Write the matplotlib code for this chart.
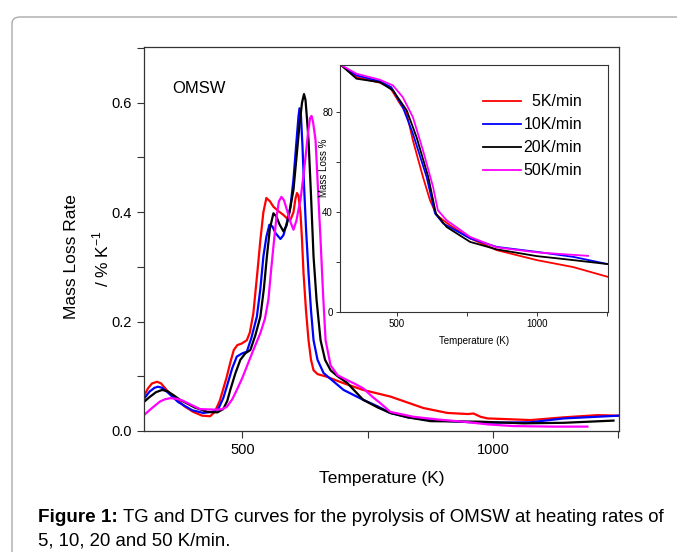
import matplotlib
matplotlib.use('Agg')
import matplotlib.pyplot as plt
from matplotlib.patches import FancyBboxPatch
from matplotlib.ticker import MultipleLocator

plt.rcParams['font.family'] = ['Liberation Sans', 'DejaVu Sans']
plt.rcParams['mathtext.fontset'] = 'custom'
plt.rcParams['mathtext.rm'] = 'Liberation Sans'

# DTG curves (main panel): temperature (K), mass loss rate (% / K)
t_red = [305, 312, 320, 330, 338, 350, 370, 385, 402, 420, 436, 445, 455, 469, 476, 483, 490,
         499, 509, 515, 522, 530, 536, 542, 548, 555, 562, 572, 582, 590, 596, 602, 606, 609,
         612, 616, 619, 622, 627, 632, 637, 642, 650, 669, 700, 741, 795, 861, 909, 950, 961,
         975, 989, 1075, 1141, 1208, 1250]
dtg_red = [0.066, 0.078, 0.087, 0.090, 0.087, 0.074, 0.057, 0.045, 0.035, 0.028, 0.027, 0.035,
           0.055, 0.099, 0.125, 0.148, 0.157, 0.160, 0.166, 0.180, 0.215, 0.290, 0.349, 0.400,
           0.426, 0.420, 0.410, 0.402, 0.395, 0.388, 0.386, 0.400, 0.425, 0.435, 0.430, 0.398,
           0.350, 0.289, 0.220, 0.166, 0.130, 0.111, 0.104, 0.099, 0.088, 0.075, 0.063, 0.042,
           0.033, 0.031, 0.032, 0.026, 0.023, 0.020, 0.025, 0.029, 0.028]

t_blue = [305, 315, 325, 332, 340, 352, 372, 400, 422, 440, 452, 462, 469, 480, 489, 500, 509,
          518, 529, 536, 542, 548, 554, 560, 566, 576, 582, 590, 596, 602, 608, 612, 614, 617,
          620, 623, 627, 632, 637, 642, 650, 662, 680, 702, 741, 770, 795, 830, 875, 975, 1075,
          1141, 1250]
dtg_blue = [0.060, 0.072, 0.079, 0.081, 0.079, 0.070, 0.053, 0.038, 0.033, 0.035, 0.040, 0.060,
            0.081, 0.115, 0.136, 0.142, 0.145, 0.170, 0.209, 0.260, 0.319, 0.355, 0.377, 0.374,
            0.362, 0.351, 0.358, 0.385, 0.410, 0.460, 0.530, 0.575, 0.590, 0.575, 0.520, 0.450,
            0.370, 0.289, 0.220, 0.166, 0.130, 0.106, 0.092, 0.075, 0.057, 0.045, 0.033, 0.025,
            0.020, 0.015, 0.016, 0.023, 0.028]

t_black = [305, 315, 328, 340, 350, 362, 376, 405, 430, 450, 462, 470, 476, 486, 496, 506, 516,
           526, 536, 543, 549, 555, 562, 568, 574, 582, 588, 594, 602, 608, 614, 619, 623, 626,
           629, 632, 637, 642, 648, 656, 665, 676, 690, 709, 741, 770, 795, 830, 875, 975, 1060,
           1141, 1240]
dtg_black = [0.054, 0.062, 0.071, 0.075, 0.073, 0.066, 0.057, 0.043, 0.035, 0.034, 0.040, 0.055,
             0.075, 0.105, 0.130, 0.142, 0.148, 0.175, 0.209, 0.260, 0.319, 0.370, 0.398, 0.392,
             0.378, 0.365, 0.375, 0.400, 0.441, 0.500, 0.560, 0.600, 0.616, 0.605, 0.570, 0.532,
             0.430, 0.319, 0.240, 0.166, 0.130, 0.111, 0.100, 0.088, 0.057, 0.043, 0.033, 0.025,
             0.018, 0.017, 0.014, 0.015, 0.019]

t_mag = [305, 320, 336, 346, 356, 368, 380, 400, 416, 449, 460, 469, 480, 489, 500, 509, 522,
         536, 545, 552, 557, 562, 568, 573, 578, 583, 589, 596, 602, 608, 612, 616, 621, 626,
         631, 635, 638, 641, 646, 651, 656, 661, 666, 676, 690, 709, 725, 741, 760, 775, 795,
         841, 890, 941, 990, 1041, 1120, 1188]
dtg_mag = [0.030, 0.042, 0.054, 0.058, 0.060, 0.059, 0.056, 0.047, 0.040, 0.039, 0.040, 0.044,
           0.058, 0.075, 0.097, 0.118, 0.148, 0.179, 0.205, 0.240, 0.290, 0.337, 0.390, 0.420,
           0.428, 0.422, 0.404, 0.382, 0.368, 0.385, 0.405, 0.423, 0.460, 0.500, 0.545, 0.572,
           0.576, 0.565, 0.532, 0.440, 0.349, 0.250, 0.166, 0.120, 0.102, 0.093, 0.086, 0.078,
           0.062, 0.051, 0.035, 0.026, 0.021, 0.017, 0.012, 0.009, 0.008, 0.008]

# TG curves (inset): temperature (K), mass loss %
tg_t_red = [300, 356, 439, 475, 511, 535, 557, 593, 618, 642, 689, 761, 856, 999, 1129, 1252]
tg_red = [99.0, 94.1, 91.9, 90.1, 83.5, 79.6, 68.8, 54.1, 44.8, 38.8, 34.8, 29.5, 24.8, 20.8, 18.0, 14.1]

tg_t_blue = [300, 356, 439, 480, 521, 557, 606, 636, 665, 761, 856, 999, 1129, 1252]
tg_blue = [99.0, 94.8, 92.5, 90.1, 82.1, 71.5, 54.1, 39.5, 35.5, 29.5, 26.1, 24.1, 22.1, 19.2]

tg_t_black = [300, 356, 439, 486, 535, 570, 612, 639, 677, 761, 856, 999, 1129, 1252]
tg_black = [99.0, 93.5, 92.1, 88.8, 80.8, 70.1, 54.1, 39.5, 34.1, 28.1, 25.1, 22.4, 20.8, 19.2]

tg_t_mag = [300, 356, 439, 486, 521, 557, 593, 629, 646, 677, 761, 856, 999, 1182]
tg_mag = [99.0, 95.5, 93.1, 90.8, 86.1, 78.1, 64.8, 50.1, 40.8, 36.8, 30.1, 25.9, 23.9, 22.5]

labels = ['  5K/min', '10K/min', '20K/min', '50K/min']
colors = ['#ff0000', '#0000ff', '#000000', '#ff00ff']

fig = plt.figure(figsize=(6.77, 5.52), dpi=100)

# page frame
frame = FancyBboxPatch((12 / 677, -0.05), 1.2, (552 - 17) / 552 + 0.05,
                       boxstyle='round,pad=0,rounding_size=0.012',
                       transform=fig.transFigure, facecolor='none',
                       edgecolor='#aaaaaa', linewidth=1.0, zorder=-5)
fig.patches.append(frame)

ax = fig.add_axes([144 / 677, 1 - 431 / 552, 475 / 677, 384 / 552])
ax.patch.set_alpha(0)
main_series = [(t_red, dtg_red), (t_blue, dtg_blue), (t_black, dtg_black), (t_mag, dtg_mag)]
for (tx, ty), c in zip(main_series, colors):
    ax.plot(tx, ty, color=c, lw=1.6, solid_joinstyle='round')
ax.set_xlim(304, 1251)
ax.set_ylim(0, 0.702)
ax.xaxis.set_major_locator(MultipleLocator(500))
ax.xaxis.set_minor_locator(MultipleLocator(250))
ax.yaxis.set_major_locator(MultipleLocator(0.2))
ax.yaxis.set_minor_locator(MultipleLocator(0.1))
ax.yaxis.set_major_formatter(plt.FuncFormatter(lambda v, p: f'{v:.1f}'))
ax.tick_params(which='both', direction='out', labelsize=10.5, width=0.8, color='#333333', length=5)
for s in ax.spines.values():
    s.set_linewidth(0.9)
    s.set_color('#333333')
ax.set_xlabel('Temperature (K)', fontsize=12.5, labelpad=10)
ax.text(0.06, 0.88, 'OMSW', transform=ax.transAxes, fontsize=12)

fig.text(72 / 677, 1 - 257 / 552, 'Mass Loss Rate', rotation=90, ha='center', va='center', fontsize=12.5)
fig.text(101 / 677, 1 - 259 / 552, r'/ % K$^{\mathregular{-1}}$', rotation=90, ha='center', va='center', fontsize=12.5)

ins = fig.add_axes([340 / 677, 1 - 312 / 552, 268 / 677, 247 / 552])
inset_series = [(tg_t_red, tg_red), (tg_t_blue, tg_blue), (tg_t_black, tg_black), (tg_t_mag, tg_mag)]
for (tx, ty), c, lab in zip(inset_series, colors, labels):
    ins.plot(tx, ty, color=c, lw=1.3, label=lab, solid_joinstyle='round')
ins.set_xlim(297, 1253)
ins.set_ylim(0, 99)
ins.xaxis.set_major_locator(MultipleLocator(500))
ins.xaxis.set_minor_locator(MultipleLocator(250))
ins.yaxis.set_major_locator(MultipleLocator(40))
ins.yaxis.set_minor_locator(MultipleLocator(20))
ins.tick_params(which='both', direction='out', labelsize=7, length=3, width=0.7, color='#333333', pad=2)
for s in ins.spines.values():
    s.set_linewidth(0.8)
    s.set_color('#333333')
ins.set_xlabel('Temperature (K)', fontsize=7, labelpad=5)
ins.set_ylabel('Mass Loss %', fontsize=7)
ins.yaxis.set_label_coords(-0.041, 0.583)
ins.legend(loc='upper right', bbox_to_anchor=(0.927, 0.907), frameon=False, fontsize=11.5,
           handlelength=2.4, handletextpad=0.15, labelspacing=0.5, borderaxespad=0)

# caption: bold lead, then normal text right after it
renderer = fig.canvas.get_renderer()
lead = fig.text(38 / 677, 1 - 522 / 552, 'Figure 1:', fontsize=13.6, fontweight='bold', va='baseline')
lead_box = lead.get_window_extent(renderer)
fig.text(lead_box.x1 / fig.bbox.width + 5 / 677, 1 - 522 / 552,
         'TG and DTG curves for the pyrolysis of OMSW at heating rates of',
         fontsize=13.4, va='baseline')
fig.text(38 / 677, 1 - 546 / 552, '5, 10, 20 and 50 K/min.', fontsize=13.4, va='baseline')

fig.savefig('out.png', dpi=100)
